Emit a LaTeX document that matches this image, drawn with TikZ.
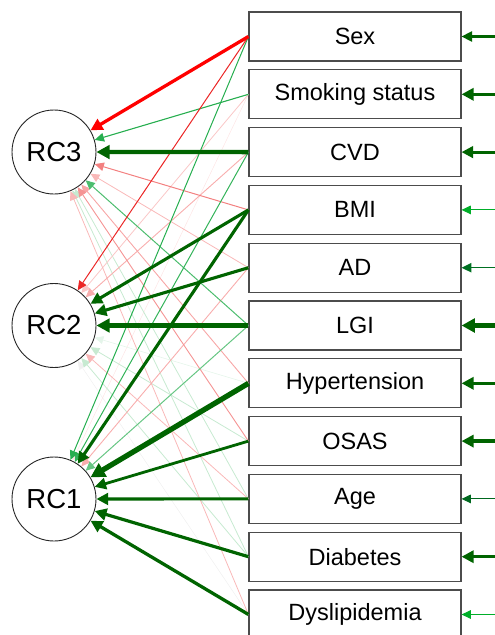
\documentclass[tikz,border=0pt]{standalone}
\usepackage{fontspec}
\setmainfont{Liberation Sans}
\usetikzlibrary{arrows.meta}
\definecolor{dgreen}{HTML}{006400}
\definecolor{wgreen}{HTML}{00A030}
\definecolor{wred}{HTML}{E80000}
\tikzset{
  varbox/.style={draw=black!70, line width=1.1pt, minimum width=212pt, minimum height=49pt, inner sep=0pt, font=\fontsize{23.5}{27}\selectfont},
  rcnode/.style={draw=black!85, line width=0.9pt, circle, minimum size=84pt, inner sep=0pt, font=\fontsize{27.5}{30}\selectfont},
  edge/.style={-{Triangle[length=8pt 1.2, width=7pt 1.5]}, line cap=butt},
}
\newcommand{\myedge}[4]{\draw[edge, draw=#3, line width=#4pt] (#1.west) -- (#2);}
\newcommand{\myres}[4]{\draw[edge, draw=#3, line width=#4pt] (#1) -- (#2.east);}
\begin{document}
\begin{tikzpicture}[x=1pt,y=-1pt]
\useasboundingbox (0,0) rectangle (495,635);
% latent nodes
\node[rcnode] (rc3) at (54,152) {RC3};
\node[rcnode] (rc2) at (54,325.5) {RC2};
\node[rcnode] (rc1) at (54,499) {RC1};
% manifest boxes
\node[varbox] (sex) at (355,36.5) {Sex};
\node[varbox] (smk) at (355,94.3) {Smoking status};
\node[varbox] (cvd) at (355,152.1) {CVD};
\node[varbox] (bmi) at (355,209.9) {BMI};
\node[varbox] (ad)  at (355,267.7) {AD};
\node[varbox] (lgi) at (355,325.5) {LGI};
\node[varbox] (hyp) at (355,383.3) {Hypertension};
\node[varbox] (osa) at (355,441.1) {OSAS};
\node[varbox] (age) at (355,498.9) {Age};
\node[varbox] (dia) at (355,556.7) {Diabetes};
\node[varbox] (dys) at (355,614.5) {Dyslipidemia};
% residual start points
\foreach \n/\y in {sex/36.5,smk/94.3,cvd/152.1,bmi/209.9,ad/267.7,lgi/325.5,hyp/383.3,osa/441.1,age/498.9,dia/556.7,dys/614.5}
  {\coordinate (r\n) at (497,\y);}
% faint loadings
\myedge{dys}{rc2}{black!6}{0.5}
\myedge{smk}{rc1}{wred!10}{0.5}
\myedge{hyp}{rc2}{wgreen!10}{0.6}
\myedge{age}{rc3}{wgreen!22}{0.8}
\myedge{dia}{rc3}{wgreen!22}{0.8}
\myedge{dia}{rc2}{wgreen!22}{0.8}
\myedge{osa}{rc2}{wgreen!22}{0.8}
\myedge{smk}{rc2}{wred!22}{0.8}
\myedge{dys}{rc3}{wred!28}{0.8}
\myedge{age}{rc2}{wred!28}{0.8}
\myedge{ad}{rc3}{wred!28}{0.8}
\myedge{ad}{rc1}{wred!32}{0.9}
\myedge{cvd}{rc2}{wred!32}{0.9}
\myedge{hyp}{rc3}{wred!35}{0.9}
\myedge{osa}{rc3}{wred!42}{0.9}
\myedge{bmi}{rc3}{wred!50}{1.0}
\myedge{lgi}{rc1}{wgreen!60}{1.0}
\myedge{lgi}{rc3}{wgreen!70}{1.0}
\myedge{cvd}{rc1}{wgreen!80}{1.0}
\myedge{sex}{rc1}{wgreen!85}{1.0}
\myedge{smk}{rc3}{wgreen!85}{1.1}
\myedge{sex}{rc2}{wred!85}{1.0}
% strong loadings
\myedge{osa}{rc1}{dgreen}{2.8}
\myedge{bmi}{rc2}{dgreen}{3.1}
\myedge{bmi}{rc1}{dgreen}{3.1}
\myedge{ad}{rc2}{dgreen}{3.1}
\myedge{age}{rc1}{dgreen}{3.1}
\myedge{dia}{rc1}{dgreen}{3.2}
\myedge{dys}{rc1}{dgreen}{3.3}
\myedge{sex}{rc3}{red}{3.3}
\myedge{cvd}{rc3}{dgreen}{4.3}
\myedge{lgi}{rc2}{dgreen}{4.3}
\myedge{hyp}{rc1}{dgreen}{5.3}
% residuals
\myres{rsex}{sex}{dgreen}{2.2}
\myres{rsmk}{smk}{dgreen}{3.4}
\myres{rcvd}{cvd}{dgreen}{3.0}
\myres{rbmi}{bmi}{wgreen!85!green}{1.0}
\myres{rad}{ad}{wgreen!70!black}{1.5}
\myres{rlgi}{lgi}{dgreen}{4.5}
\myres{rhyp}{hyp}{dgreen}{3.4}
\myres{rosa}{osa}{dgreen}{3.4}
\myres{rage}{age}{wgreen!65!black}{1.0}
\myres{rdia}{dia}{dgreen}{3.4}
\myres{rdys}{dys}{wgreen!85!green}{1.0}
\end{tikzpicture}
\end{document}
